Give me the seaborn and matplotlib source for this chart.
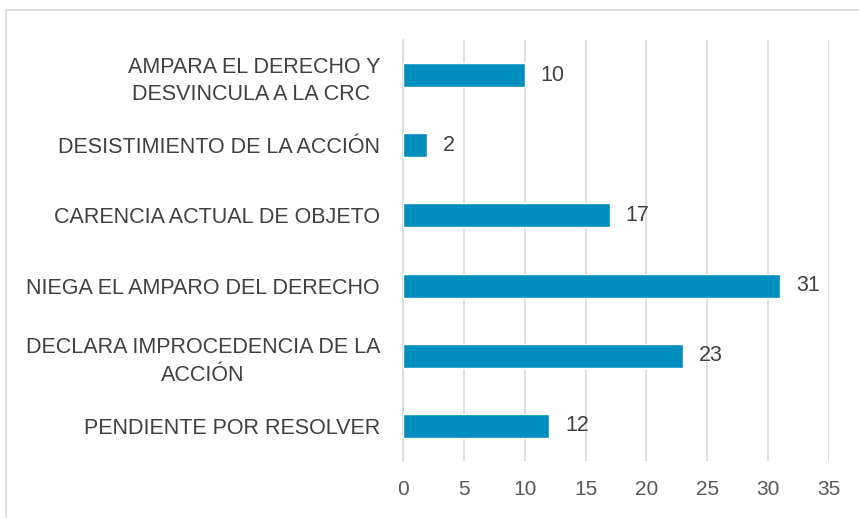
import matplotlib
matplotlib.use('Agg')
import matplotlib.pyplot as plt
import seaborn as sns
import pandas as pd
from matplotlib.patches import Rectangle

# Data
categorias = ['AMPARA EL DERECHO Y\nDESVINCULA A LA CRC ',
              'DESISTIMIENTO DE LA ACCIÓN',
              'CARENCIA ACTUAL DE OBJETO',
              'NIEGA EL AMPARO DEL DERECHO',
              'DECLARA IMPROCEDENCIA DE LA\nACCIÓN',
              'PENDIENTE POR RESOLVER']
valores = [10, 2, 17, 31, 23, 12]
xticks = [0, 5, 10, 15, 20, 25, 30, 35]

df = pd.DataFrame({'categoria': categorias, 'valor': valores})

sns.set_style('white')
plt.rcParams['font.family'] = ['Liberation Sans', 'DejaVu Sans']

fig = plt.figure(figsize=(8.59, 5.18), dpi=100)
ax = fig.add_axes([403 / 859, 1 - 461 / 518, 426 / 859, 421 / 518])

sns.barplot(data=df, x='valor', y='categoria', color='#008FBF',
            width=0.34, saturation=1, ax=ax, zorder=3)

ax.set_xlim(0, 35)
ax.set_ylim(5.5, -0.5)
ax.set_xticks(xticks)
ax.set_xlabel('')
ax.set_ylabel('')
ax.grid(axis='x', color='#D9D9D9', linewidth=1.2, zorder=0)
ax.grid(axis='y', visible=False)

for s in ['top', 'right', 'bottom']:
    ax.spines[s].set_visible(False)
ax.spines['left'].set_color('#D9D9D9')
ax.spines['left'].set_linewidth(1.2)

# ticks on category boundaries on the y axis
ax.set_yticks([i - 0.5 for i in range(7)], minor=False)
ax.set_yticklabels([])
ax.set_yticks(range(6), minor=True)
ax.set_yticklabels(categorias, minor=True, fontsize=15.5, color='#404040',
                   ha='right', multialignment='center', linespacing=1.4)
ax.tick_params(axis='y', which='major', length=6, color='#D9D9D9', width=1.2)
ax.tick_params(axis='y', which='minor', length=0, pad=16.5)
ax.tick_params(axis='x', length=0, labelsize=15, labelcolor='#595959', pad=14)

for i, v in enumerate(valores):
    ax.text(v + 1.3, i, str(v), va='center', ha='left', fontsize=15.5,
            color='#404040', zorder=4)

# chart border
fig.patches.append(Rectangle((6 / 859, -0.1), 1.2, 1 - 10 / 518 + 0.1,
                             transform=fig.transFigure, fill=False,
                             edgecolor='#D9D9D9', linewidth=1.2))

fig.savefig('out.png', dpi=100)
